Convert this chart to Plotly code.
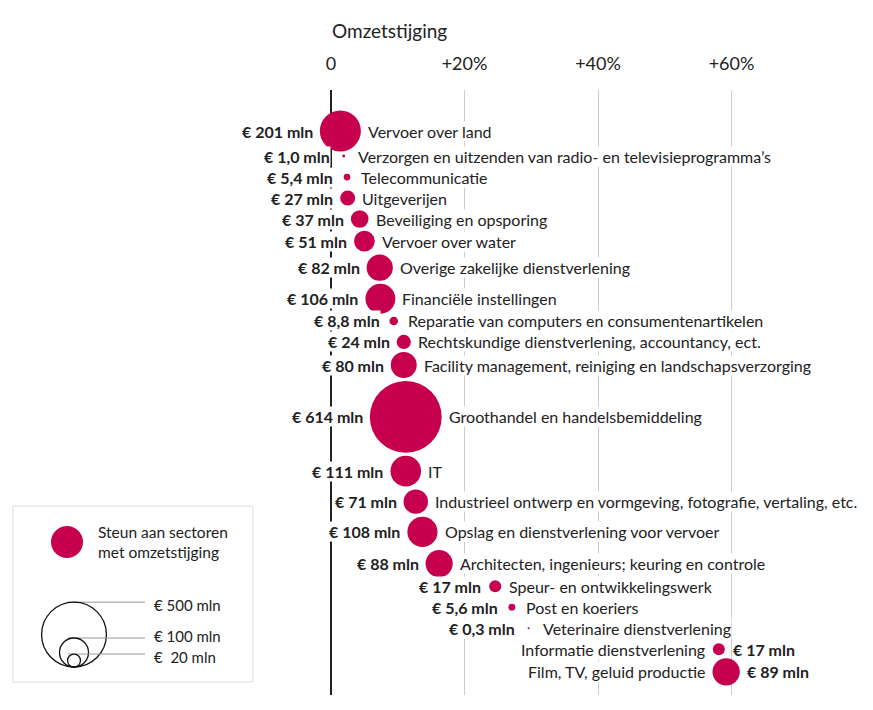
import math
import plotly.graph_objects as go

# ---------------- data ----------------
sectors = [
    "Vervoer over land",
    "Verzorgen en uitzenden van radio- en televisieprogramma’s",
    "Telecommunicatie",
    "Uitgeverijen",
    "Beveiliging en opsporing",
    "Vervoer over water",
    "Overige zakelijke dienstverlening",
    "Financiële instellingen",
    "Reparatie van computers en consumentenartikelen",
    "Rechtskundige dienstverlening, accountancy, ect.",
    "Facility management, reiniging en landschapsverzorging",
    "Groothandel en handelsbemiddeling",
    "IT",
    "Industrieel ontwerp en vormgeving, fotografie, vertaling, etc.",
    "Opslag en dienstverlening voor vervoer",
    "Architecten, ingenieurs; keuring en controle",
    "Speur- en ontwikkelingswerk",
    "Post en koeriers",
    "Veterinaire dienstverlening",
    "Informatie dienstverlening",
    "Film, TV, geluid productie",
]
support_mln = [201, 1.0, 5.4, 27, 37, 51, 82, 106, 8.8, 24, 80, 614, 111, 71, 108, 88, 17, 5.6, 0.3, 17, 89]
support_labels = ["€ 201 mln", "€ 1,0 mln", "€ 5,4 mln", "€ 27 mln", "€ 37 mln", "€ 51 mln",
                  "€ 82 mln", "€ 106 mln", "€ 8,8 mln", "€ 24 mln", "€ 80 mln", "€ 614 mln",
                  "€ 111 mln", "€ 71 mln", "€ 108 mln", "€ 88 mln", "€ 17 mln", "€ 5,6 mln",
                  "€ 0,3 mln", "€ 17 mln", "€ 89 mln"]
growth_pct = [1.4, 1.9, 2.4, 2.5, 4.3, 5.0, 7.3, 7.4, 9.4, 10.9, 10.9, 11.2, 11.2, 12.7, 13.7, 16.2,
              24.6, 27.1, 29.6, 58.1, 59.2]
tick_vals = [0, 20, 40, 60]
tick_text = ["0", "+20%", "+40%", "+60%"]
legend_sizes = [500, 100, 20]
legend_size_labels = ["€ 500 mln", "€ 100 mln", "€  20 mln"]

# ---------------- style / layout ----------------
OFF = 8                      # page body margin of the html page
W, H = 873 - OFF, 710 - OFF
PLOT_TOP, PLOT_BOTTOM = 90, 695   # in page pixels
ZERO_PX = 331
FIRST_ROW_PX = 131
PX_PER_PCT = 6.675
SCALE = 1.45                 # radius in px per sqrt(mln)
MIN_ROW, GAP = 21, 3
LABEL_GAP, LABEL_MIN_OFF = 6, 13
RED = "#c6004f"
TXT = "#222222"
FONT = "Lato"

MT = PLOT_TOP - OFF
MB = H - (PLOT_BOTTOM - OFF)
ML = MR = 0
plot_h = H - MT - MB
radii = [SCALE * math.sqrt(v) for v in support_mln]

# row positions packed from bubble sizes (1 y-unit = 1 px)
ypos = [0.0]
for i in range(1, len(radii)):
    ypos.append(ypos[-1] + max(MIN_ROW, radii[i - 1] + radii[i] + GAP))

zero_fig = ZERO_PX - OFF
x_range = [-(zero_fig - ML) / PX_PER_PCT, (W - MR - zero_fig) / PX_PER_PCT]
y_top = -(FIRST_ROW_PX - PLOT_TOP)
y_range = [y_top + plot_h, y_top]

fig = go.Figure()
fig.add_trace(go.Scatter(
    x=growth_pct, y=ypos, mode="markers",
    marker=dict(size=support_mln, sizemode="area", sizeref=1 / (2 * SCALE ** 2),
                sizemin=1, color=RED, opacity=1, line=dict(width=0)),
    hoverinfo="skip", showlegend=False,
))

ann = []
for g, y, r, name, lab in zip(growth_pct, ypos, radii, sectors, support_labels):
    flip = g > 50
    off = max(r + LABEL_GAP, LABEL_MIN_OFF)
    ann.append(dict(x=g, y=y, xref="x", yref="y", text=f"<b>{lab}</b>", showarrow=False,
                    xanchor="left" if flip else "right", yanchor="middle",
                    xshift=off if flip else -off,
                    font=dict(size=16, color=TXT, family=FONT),
                    bgcolor="white", borderpad=0))
    ann.append(dict(x=g, y=y, xref="x", yref="y", text=name, showarrow=False,
                    xanchor="right" if flip else "left", yanchor="middle",
                    xshift=-off if flip else off,
                    font=dict(size=16, color=TXT, family=FONT),
                    bgcolor="white", borderpad=0))


def px(xp):
    """page x pixel -> paper"""
    return (xp - OFF - ML) / (W - ML - MR)


def py(yp):
    """page y pixel -> paper"""
    return (PLOT_BOTTOM - yp) / plot_h


# title
ann.append(dict(x=px(330), y=py(30), xref="paper", yref="paper", text="Omzetstijging",
                showarrow=False, xanchor="left", yanchor="middle",
                font=dict(size=19, color=TXT, family=FONT)))

shapes = []
# legend box
shapes.append(dict(type="rect", xref="paper", yref="paper", x0=px(13), x1=px(253),
                   y0=py(682), y1=py(506), line=dict(color="#dddddd", width=1),
                   fillcolor="white", layer="below"))
cx, cy, cr = 67, 542, 16
shapes.append(dict(type="circle", xref="paper", yref="paper", x0=px(cx - cr), x1=px(cx + cr),
                   y0=py(cy + cr), y1=py(cy - cr), fillcolor=RED, line=dict(width=0)))
ann.append(dict(x=px(96), y=py(542), xref="paper", yref="paper",
                text="Steun aan sectoren<br>met omzetstijging", showarrow=False,
                xanchor="left", yanchor="middle", align="left",
                font=dict(size=15.5, color=TXT, family=FONT)))
base_y, lcx = 667, 74
label_y = [605, 636, 657]
for v, lab, ly in zip(legend_sizes, legend_size_labels, label_y):
    r = SCALE * math.sqrt(v)
    top = base_y - 2 * r
    shapes.append(dict(type="line", xref="paper", yref="paper", x0=px(lcx - 6), x1=px(145),
                       y0=py(top), y1=py(top), line=dict(color="#999999", width=1)))
    shapes.append(dict(type="circle", xref="paper", yref="paper", x0=px(lcx - r), x1=px(lcx + r),
                       y0=py(base_y), y1=py(top), line=dict(color="#111111", width=1.3),
                       fillcolor="rgba(0,0,0,0)"))
    ann.append(dict(x=px(152), y=py(ly), xref="paper", yref="paper", text=lab,
                    showarrow=False, xanchor="left", yanchor="middle",
                    font=dict(size=15, color=TXT, family=FONT)))

fig.update_layout(
    width=W, height=H, margin=dict(l=ML, r=MR, t=MT, b=MB),
    paper_bgcolor="white", plot_bgcolor="white",
    font=dict(family=FONT, color=TXT),
    xaxis=dict(range=x_range, side="top", tickvals=tick_vals, ticktext=tick_text,
               ticks="outside", ticklen=12, tickcolor="rgba(0,0,0,0)",
               tickfont=dict(size=18, color=TXT, family=FONT),
               showgrid=True, gridcolor="#cccccc", gridwidth=1,
               zeroline=True, zerolinecolor="#222222", zerolinewidth=1.5,
               showline=False, fixedrange=True),
    yaxis=dict(range=y_range, visible=False, showgrid=False, zeroline=False, fixedrange=True),
    annotations=ann, shapes=shapes,
)

fig.write_html("out.html")
